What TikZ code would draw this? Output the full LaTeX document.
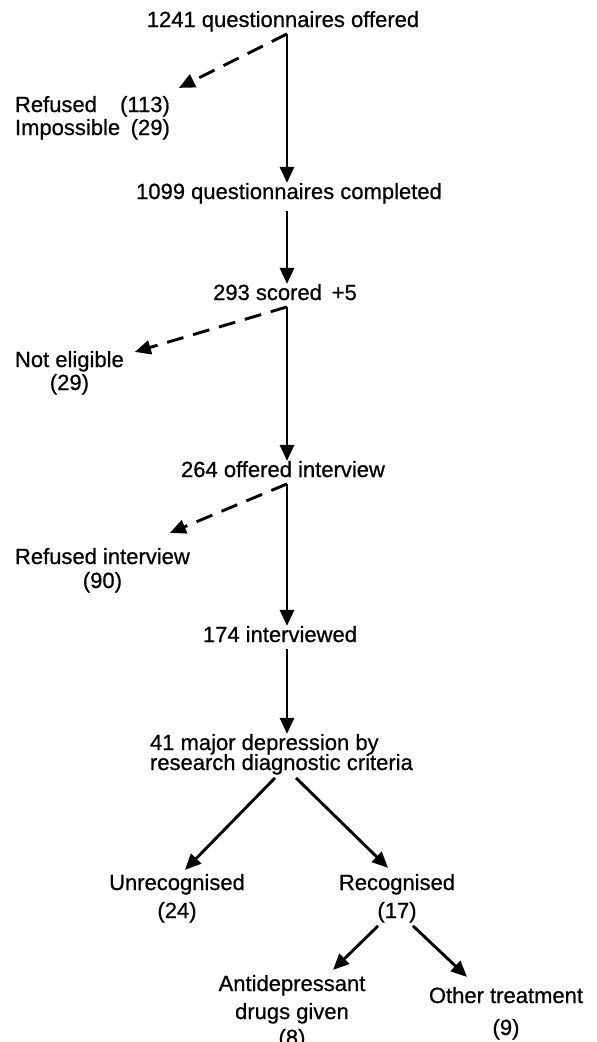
\documentclass[tikz,border=0pt]{standalone}
\usepackage{fontspec}
\setmainfont{Liberation Sans}[BoldFont={Liberation Sans},BoldFeatures={FakeBold=0.7}]
\usetikzlibrary{arrows.meta,calc}
\begin{document}
\begin{tikzpicture}[x=1pt,y=-1pt,
  lbl/.style={inner sep=0pt, outer sep=0pt, font=\fontsize{22}{23}\selectfont\bfseries, text height=16.1pt, text depth=6.9pt},
  mlbl/.style={inner sep=0pt, outer sep=0pt, font=\fontsize{22}{23}\selectfont\bfseries},
  arr/.style={line width=2.9pt, -{Triangle[length=16pt,width=14pt]}},
  darr/.style={arr, dash pattern=on 17pt off 10pt}]
\useasboundingbox (0,0) rectangle (597,1042);
\coordinate (spine) at (287,0);
% nodes
\node[lbl, anchor=base] (n1241) at (283,27) {1241 questionnaires offered};
\node[mlbl, anchor=base west] (nref) at (15,112) {\begin{tabular}[t]{@{}l@{}r@{}}Refused&(113)\\Impossible&(29)\end{tabular}};
\node[lbl, anchor=base] (n1099) at (289,199) {1099 questionnaires completed};
\node[lbl, anchor=base] (n293) at (285,300) {293 scored\, +5};
\node[mlbl, anchor=base west] (nnot) at (15,367) {\begin{tabular}[t]{@{}c@{}}Not eligible\\(29)\end{tabular}};
\node[lbl, anchor=base] (n264) at (283,477) {264 offered interview};
\node[mlbl, anchor=base west] (nrefint) at (15,564) {\begin{tabular}[t]{@{}c@{}}Refused interview\\[1pt](90)\end{tabular}};
\node[lbl, anchor=base] (n174) at (280,642) {174 interviewed};
\node[mlbl, anchor=base west] (n41) at (150,750) {\begin{tabular}[t]{@{}l@{}}41 major depression by\\[-3pt]research diagnostic criteria\end{tabular}};
\node[mlbl, anchor=base] (nunrec) at (177,890) {\begin{tabular}[t]{@{}c@{}}Unrecognised\\[5pt](24)\end{tabular}};
\node[mlbl, anchor=base] (nrec) at (397,890) {\begin{tabular}[t]{@{}c@{}}Recognised\\[5pt](17)\end{tabular}};
\node[mlbl, anchor=base] (nanti) at (292,991) {\begin{tabular}[t]{@{}c@{}}Antidepressant\\[5pt]drugs given\\[3pt](8)\end{tabular}};
\node[mlbl, anchor=base] (nother) at (506,1003) {\begin{tabular}[t]{@{}c@{}}Other treatment\\[9pt](9)\end{tabular}};
% connectors
\draw[darr] (n1241.south -| spine) -- ($(nref.north east)+(9,-8)$);
\draw[arr] (n1241.south -| spine) -- (n1099.north -| spine);
\draw[arr] ($(n1099.south -| spine)+(0,5)$) -- (n293.north -| spine);
\draw[darr] (n293.south -| spine) -- ($(nnot.north east)+(11,1)$);
\draw[arr] (n293.south -| spine) -- (n264.north -| spine);
\draw[darr] (n264.south -| spine) -- ($(nrefint.north east)+(-20,-15)$);
\draw[arr] (n264.south -| spine) -- (n174.north -| spine);
\draw[arr] (n174.south -| spine) -- (n41.north -| spine);
\draw[arr] ($(n41.south -| spine)+(-12,1)$) -- ($(nunrec.north)+(8,-4)$);
\draw[arr] ($(n41.south -| spine)+(9,1)$) -- ($(nrec.north)+(-9,-6)$);
\draw[arr] ($(nrec.south)+(-19,1)$) -- ($(nanti.north)+(41,-5)$);
\draw[arr] ($(nrec.south)+(16,1)$) -- ($(nother.north)+(-39,-10)$);
\end{tikzpicture}
\end{document}
